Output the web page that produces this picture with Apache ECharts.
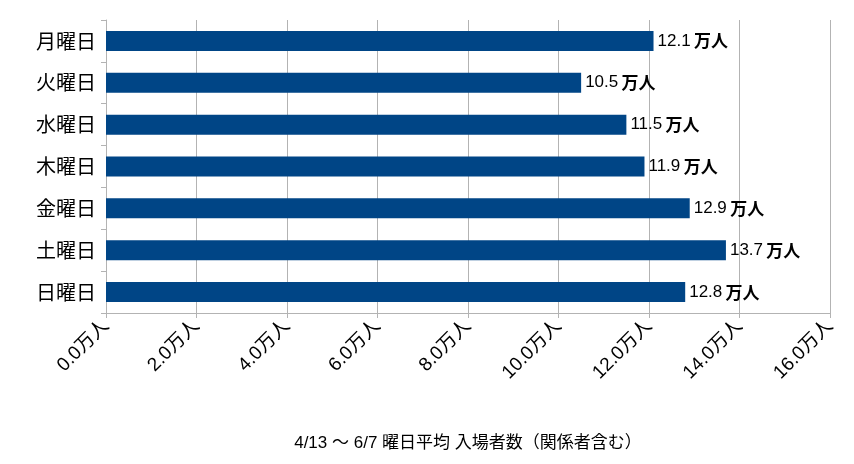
<!DOCTYPE html>
<html><head><meta charset="utf-8">
<script src="https://cdn.jsdelivr.net/npm/echarts@6/dist/echarts.min.js"></script>
<style>html,body{margin:0;padding:0;background:#fff}#c{width:854px;height:464px}</style>
</head><body><div id="c"></div>
<script>
const categories = ['月曜日','火曜日','水曜日','木曜日','金曜日','土曜日','日曜日'];
const values = [12.1, 10.5, 11.5, 11.9, 12.9, 13.7, 12.8];
const axisTitle = '4/13 〜 6/7 曜日平均 入場者数（関係者含む）';
const chart = echarts.init(document.getElementById('c'));
chart.setOption({
  animation:false,
  grid:{left:106,right:24,top:20,bottom:151},
  xAxis:{type:'value',min:0,max:16,interval:2,
    axisLine:{show:true,lineStyle:{color:'#b3b3b3'}},
    axisTick:{show:true,length:5,lineStyle:{color:'#b3b3b3'}},
    splitLine:{lineStyle:{color:'#b3b3b3'}},
    axisLabel:{rotate:45,fontSize:19,color:'#000',fontFamily:'Liberation Sans, Noto Sans CJK JP',margin:10,
      formatter:v=>v.toFixed(1)+'万人'},
    name:axisTitle,nameLocation:'middle',nameGap:122,
    nameTextStyle:{fontSize:17,color:'#000',fontFamily:'Liberation Sans, Noto Sans CJK JP'}},
  yAxis:{type:'category',data:categories,inverse:true,
    axisLine:{show:true,lineStyle:{color:'#b3b3b3'}},
    axisTick:{show:true,lineStyle:{color:'#b3b3b3'}},
    axisLabel:{fontSize:20,color:'#000',fontFamily:'Noto Sans CJK JP',margin:10}},
  series:[{type:'bar',data:values,barWidth:20,itemStyle:{color:'#004586'},
    label:{show:true,position:'right',distance:4,
      formatter:p=>'{n|'+p.value.toFixed(1)+'} {u|万人}',
      rich:{n:{fontSize:17,color:'#000',fontFamily:'Liberation Sans'},
            u:{fontSize:17,color:'#000',fontWeight:'bold',fontFamily:'Noto Sans CJK JP'}}}}]
});
</script></body></html>
